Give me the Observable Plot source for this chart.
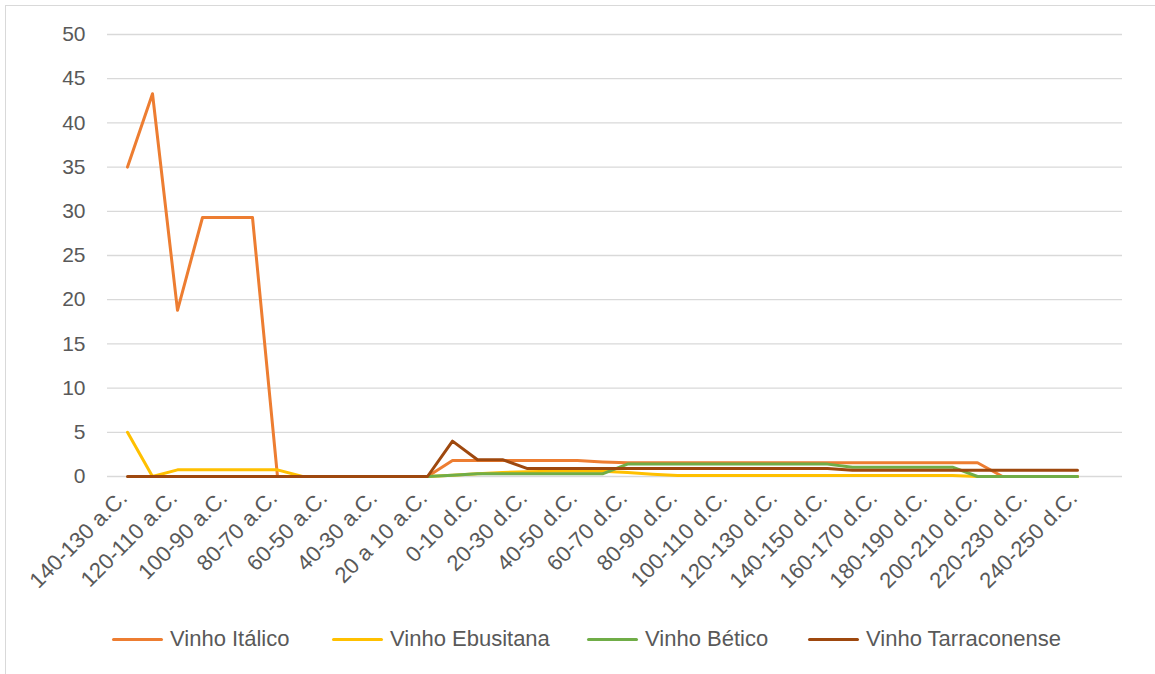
<!DOCTYPE html>
<html>
<head>
<meta charset="utf-8">
<script src="https://cdn.jsdelivr.net/npm/d3@7"></script>
<script src="https://cdn.jsdelivr.net/npm/@observablehq/plot@0.6"></script>
<style>
  html, body { margin: 0; padding: 0; background: #fff; }
  body { width: 1155px; height: 674px; position: relative; overflow: hidden; font-family: "Liberation Sans", Arial, sans-serif; }
  #frame { position: absolute; left: 5px; top: 5px; width: 1200px; height: 800px; border-left: 1.5px solid #d9d9d9; border-top: 1.5px solid #d9d9d9; }
  #chart { position: absolute; left: 0; top: 0; }
  #legend { position: absolute; left: 0; top: 624px; width: 1155px; height: 30px; }
  .item { position: absolute; top: 0; height: 30px; display: flex; align-items: center; font-size: 22px; color: #595959; white-space: nowrap; }
  .sw { width: 51px; height: 3px; border-radius: 1.5px; margin-right: 7px; }
</style>
</head>
<body>
<div id="frame"></div>
<div id="chart"></div>
<div id="legend"></div>
<script>
const categories = [
  "140-130 a.C.", "130-120 a.C.", "120-110 a.C.", "110-100 a.C.", "100-90 a.C.",
  "90-80 a.C.", "80-70 a.C.", "70-60 a.C.", "60-50 a.C.", "50-40 a.C.",
  "40-30 a.C.", "30-20 a.C.", "20 a 10 a.C.", "10 a 0 a.C.", "0-10 d.C.",
  "10-20 d.C.", "20-30 d.C.", "30-40 d.C.", "40-50 d.C.", "50-60 d.C.",
  "60-70 d.C.", "70-80 d.C.", "80-90 d.C.", "90-100 d.C.", "100-110 d.C.",
  "110-120 d.C.", "120-130 d.C.", "130-140 d.C.", "140-150 d.C.", "150-160 d.C.",
  "160-170 d.C.", "170-180 d.C.", "180-190 d.C.", "190-200 d.C.", "200-210 d.C.",
  "210-220 d.C.", "220-230 d.C.", "230-240 d.C.", "240-250 d.C."
];

const seriesNames = ["Vinho Itálico", "Vinho Ebusitana", "Vinho Bético", "Vinho Tarraconense"];
const seriesColors = ["#ED7D31", "#FFC000", "#70AD47", "#9E480E"];

const vinhoItalico = [
  35.0, 43.3, 18.8, 29.3, 29.3, 29.3, 0, 0, 0, 0,
  0, 0, 0, 1.8, 1.8, 1.8, 1.8, 1.8, 1.8, 1.65,
  1.55, 1.55, 1.55, 1.55, 1.55, 1.55, 1.55, 1.55, 1.55, 1.55,
  1.55, 1.55, 1.55, 1.55, 1.55, 0, 0, 0, 0
];
const vinhoEbusitana = [
  5.0, 0, 0.75, 0.75, 0.75, 0.75, 0.75, 0, 0, 0,
  0, 0, 0, 0.15, 0.3, 0.45, 0.55, 0.6, 0.6, 0.6,
  0.45, 0.25, 0.1, 0.1, 0.1, 0.1, 0.1, 0.1, 0.1, 0.1,
  0.1, 0.1, 0.1, 0.1, 0, 0, 0, 0, 0
];
const vinhoBetico = [
  null, null, null, null, null, null, null, null, null, null,
  null, null, 0, 0.15, 0.3, 0.3, 0.3, 0.3, 0.3, 0.3,
  1.4, 1.4, 1.4, 1.4, 1.4, 1.4, 1.4, 1.4, 1.4, 1.05,
  1.05, 1.05, 1.05, 1.05, 0, 0, 0, 0, 0
];
const vinhoTarraconense = [
  0, 0, 0, 0, 0, 0, 0, 0, 0, 0,
  0, 0, 0, 4.0, 1.9, 1.9, 0.9, 0.9, 0.9, 0.9,
  0.9, 0.9, 0.9, 0.9, 0.9, 0.9, 0.9, 0.9, 0.9, 0.7,
  0.7, 0.7, 0.7, 0.7, 0.7, 0.7, 0.7, 0.7, 0.7
];

const yTicks = [0, 5, 10, 15, 20, 25, 30, 35, 40, 45, 50];
const xTickLabels = categories.filter((d, i) => i % 2 === 0);

const seriesValues = [vinhoItalico, vinhoEbusitana, vinhoBetico, vinhoTarraconense];
const rows = [];
seriesNames.forEach((name, s) => {
  seriesValues[s].forEach((v, i) => {
    if (v !== null) rows.push({series: name, cat: categories[i], value: v});
  });
});

const chart = Plot.plot({
  width: 1155,
  height: 610,
  marginLeft: 120,
  marginRight: 72,
  marginTop: 34,
  marginBottom: 134,
  style: {fontFamily: "'Liberation Sans', Arial, sans-serif", fontSize: "21px", color: "#595959", background: "transparent", overflow: "visible"},
  x: {type: "point", domain: categories, padding: 0},
  y: {domain: [0, 50]},
  color: {domain: seriesNames, range: seriesColors},
  marks: [
    Plot.gridY(yTicks, {stroke: "#d9d9d9", strokeOpacity: 1, strokeWidth: 1.3, insetLeft: -13, insetRight: -39}),
    Plot.axisY({ticks: yTicks, tickSize: 0, tickPadding: 35, label: null}),
    Plot.axisX({ticks: xTickLabels, tickSize: 0, tickRotate: -45, tickPadding: 18, dx: -4, fontSize: 22, label: null}),
    Plot.line(rows, {x: "cat", y: "value", z: "series", stroke: "series", strokeWidth: 3, strokeLinejoin: "round", strokeLinecap: "round"})
  ]
});
document.getElementById("chart").appendChild(chart);

const legendX = [[112, 170], [332, 390], [587, 645], [808, 867]];
const legend = document.getElementById("legend");
seriesNames.forEach((name, i) => {
  const item = document.createElement("div");
  item.className = "item";
  item.style.left = legendX[i][0] + "px";
  const sw = document.createElement("div");
  sw.className = "sw";
  sw.style.background = seriesColors[i];
  item.appendChild(sw);
  const t = document.createElement("span");
  t.textContent = name;
  item.appendChild(t);
  legend.appendChild(item);
});
</script>
</body>
</html>
